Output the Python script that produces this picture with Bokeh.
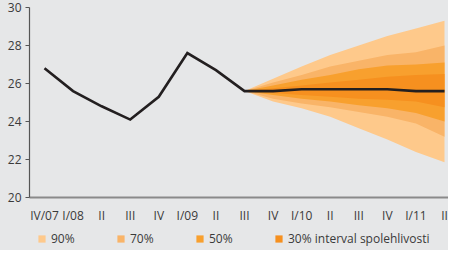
from bokeh.plotting import figure
from bokeh.models import Range1d, FixedTicker, Legend, LegendItem
from bokeh.layouts import column
from bokeh.embed import file_html
from bokeh.resources import INLINE

# ---- data ----
quarters = ["IV/07", "I/08", "II", "III", "IV", "I/09", "II", "III", "IV",
            "I/10", "II", "III", "IV", "I/11", "II"]
values = [26.8, 25.6, 24.8, 24.1, 25.3, 27.6, 26.7, 25.6, 25.6,
          25.7, 25.7, 25.7, 25.7, 25.6, 25.6]
fan_start = 7  # forecast fan begins at III/09
up90 = [25.6, 26.25, 26.9, 27.5, 28.0, 28.5, 28.9, 29.3]
up70 = [25.6, 26.05, 26.45, 26.9, 27.2, 27.5, 27.65, 28.0]
up50 = [25.6, 25.9, 26.2, 26.45, 26.75, 26.95, 27.0, 27.1]
up30 = [25.6, 25.75, 25.9, 26.05, 26.2, 26.35, 26.45, 26.5]
lo30 = [25.6, 25.5, 25.4, 25.3, 25.2, 25.15, 25.05, 24.75]
lo50 = [25.6, 25.4, 25.2, 25.05, 24.85, 24.7, 24.45, 24.0]
lo70 = [25.6, 25.2, 24.95, 24.75, 24.5, 24.25, 23.9, 23.2]
lo90 = [25.6, 25.05, 24.7, 24.25, 23.65, 23.05, 22.4, 21.85]
band_labels = ["90%", "70%", "50%", "30% interval spolehlivosti"]
band_colors = ["#FEC98B", "#F9B468", "#F8A02E", "#F6901F"]
y_ticks = [20, 22, 24, 26, 28, 30]

BG = "#E6E7E8"
TXT = "#3A3A3A"
FONT = "Open Sans"

x_all = list(range(len(quarters)))
x_fan = x_all[fan_start:]
bands = list(zip([lo90, lo70, lo50, lo30], [up90, up70, up50, up30], band_colors))

p = figure(width=448, height=226, output_backend="svg", toolbar_location=None,
           x_range=Range1d(-0.525, 14.14), y_range=Range1d(20, 30),
           min_border_left=29, min_border_right=0, min_border_top=7,
           min_border_bottom=28)
p.background_fill_color = BG
p.border_fill_color = BG
p.outline_line_color = None
p.xgrid.grid_line_color = None
p.ygrid.grid_line_color = None

for lo, hi, col in bands:
    p.varea(x=x_fan, y1=lo, y2=hi, fill_color=col, fill_alpha=1.0)

p.line(x_all, values, line_color="#231F20", line_width=2.6, line_join="miter")

# y axis
p.yaxis.ticker = FixedTicker(ticks=y_ticks)
p.yaxis.axis_line_color = "#555555"
p.yaxis.axis_line_width = 1.2
p.yaxis.major_tick_line_color = "#555555"
p.yaxis.major_tick_out = 4
p.yaxis.major_tick_in = 0
p.yaxis.minor_tick_line_color = None
p.yaxis.major_label_text_font = FONT
p.yaxis.major_label_text_font_size = "12px"
p.yaxis.major_label_text_color = TXT
p.yaxis.major_label_standoff = 4

# x axis
p.xaxis.ticker = FixedTicker(ticks=x_all)
p.xaxis.major_label_overrides = {i: q for i, q in zip(x_all, quarters)}
p.xaxis.axis_line_color = "#8A8A8A"
p.xaxis.axis_line_width = 2
p.xaxis.major_tick_line_color = None
p.xaxis.major_tick_out = 0
p.xaxis.major_tick_in = 0
p.xaxis.minor_tick_line_color = None
p.xaxis.major_label_text_font = FONT
p.xaxis.major_label_text_font_size = "12px"
p.xaxis.major_label_text_color = TXT
p.xaxis.major_label_standoff = 9

# legend strip below the chart (bands are out of its view; only the legend shows)
lf = figure(width=448, height=24, output_backend="svg", toolbar_location=None,
            x_range=Range1d(-100, -99), y_range=Range1d(0, 1),
            x_axis_type=None, y_axis_type=None,
            min_border_left=0, min_border_right=0, min_border_top=0, min_border_bottom=0)
lf.background_fill_color = BG
lf.border_fill_color = BG
lf.outline_line_color = None
lf.xgrid.grid_line_color = None
lf.ygrid.grid_line_color = None
leg_renderers = [lf.varea(x=x_fan, y1=lo, y2=hi, fill_color=col, fill_alpha=1.0)
                 for lo, hi, col in bands]
legend = Legend(items=[LegendItem(label=lab, renderers=[r]) for lab, r in zip(band_labels, leg_renderers)],
                location=(8, 3), orientation="horizontal",
                glyph_width=9, glyph_height=9, label_standoff=5, label_width=65,
                spacing=0, padding=0, margin=0,
                background_fill_alpha=0, border_line_color=None,
                label_text_font=FONT, label_text_font_size="12px",
                label_text_color=TXT)
lf.add_layout(legend, "center")

layout = column(p, lf, spacing=0, styles={"background-color": BG})
open("out.html", "w").write(file_html(layout, INLINE))
